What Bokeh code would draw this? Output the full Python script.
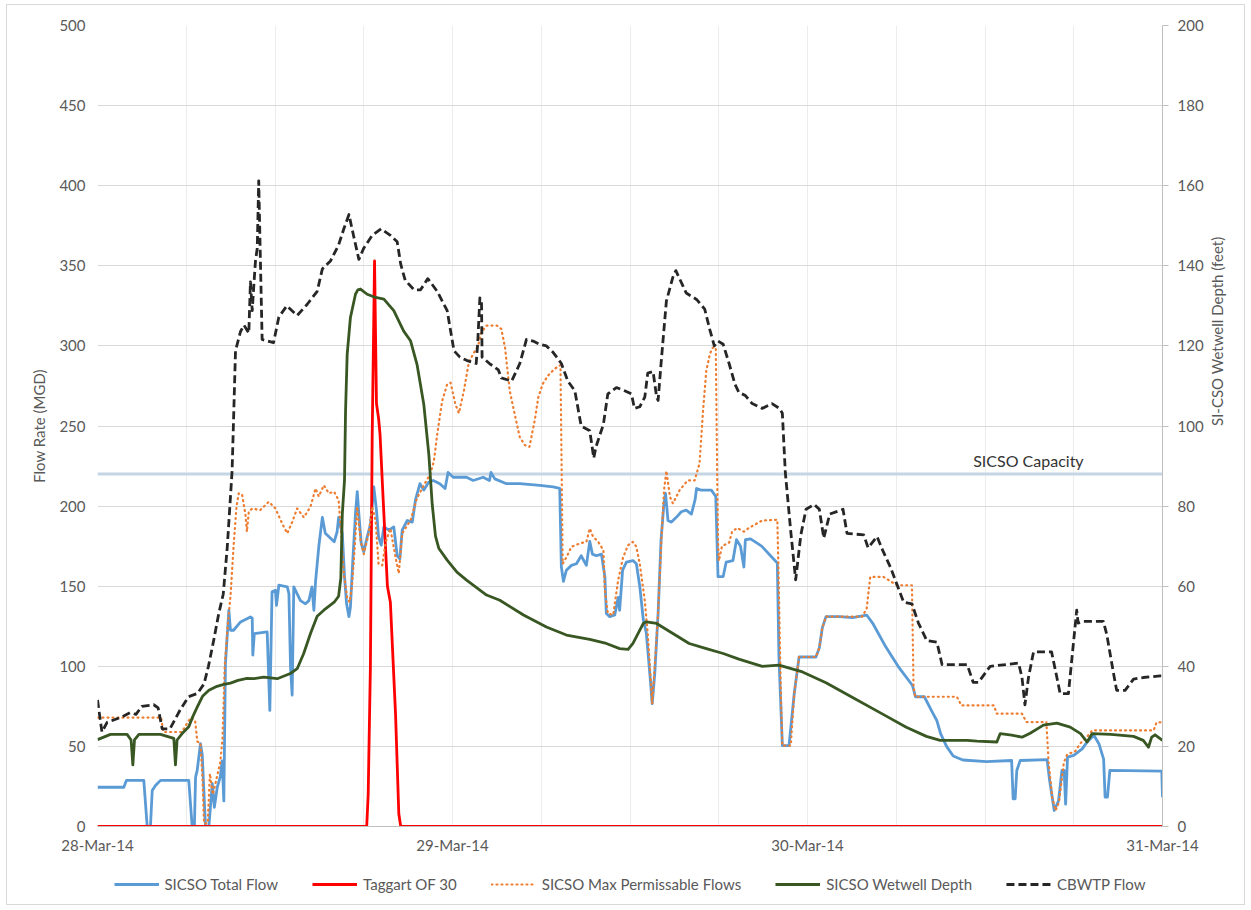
import math
from bokeh.plotting import figure
from bokeh.layouts import column
from bokeh.models import Range1d, LinearAxis, Label, Legend, LegendItem, FixedTicker
from bokeh.embed import file_html
from bokeh.resources import INLINE

FONT = "Lato"
TXT = "#595959"

# ---------------- data (hours after 28-Mar-14 00:00) ----------------
x_tick_hours = [0, 24, 48, 72]
x_tick_labels = ["28-Mar-14", "29-Mar-14", "30-Mar-14", "31-Mar-14"]
grid_hours = list(range(0, 73, 6))
flow_ticks = list(range(0, 501, 50))
depth_ticks = list(range(0, 201, 20))
capacity_mgd = 220
capacity_label = "SICSO Capacity"

# SICSO Total Flow (MGD)
sicso_total_flow = [
    (0, 24.5), (1.78, 24.5), (1.96, 28.8), (3.13, 28.8), (3.36, 0), (3.58, 0), (3.7, 22.5), (3.92, 25.6),
    (4.26, 28.8), (6.17, 28.8), (6.4, 0), (6.55, 0), (6.63, 30.8), (6.74, 35), (6.96, 51.7), (7.08, 45),
    (7.3, 0), (7.53, 0), (7.76, 26.7), (7.9, 12), (8.1, 24.6), (8.3, 31), (8.43, 41), (8.54, 16),
    (8.65, 101.7), (8.88, 135), (8.99, 122.5), (9.2, 122.5), (9.67, 127.7), (10.34, 130.8), (10.46, 130),
    (10.5, 107), (10.6, 120.4), (11.47, 121.5), (11.65, 72.5), (11.8, 146.5), (12.03, 147.5), (12.1, 138),
    (12.26, 150.6), (12.83, 149.6), (12.94, 145.4), (13.05, 99.6), (13.16, 82), (13.27, 149.6), (13.72, 141),
    (14.06, 139), (14.29, 141), (14.5, 149.6), (14.63, 135), (14.74, 152.7), (14.96, 174.6), (15.2, 193),
    (15.4, 183), (16.0, 177.7), (16.2, 184), (16.3, 193), (16.55, 183), (16.7, 156), (16.84, 139), (17.0, 131),
    (17.1, 137), (17.26, 166), (17.44, 195), (17.56, 209), (17.67, 195), (17.83, 176.7), (18.0, 171.5),
    (18.24, 181), (18.46, 189), (18.68, 212), (18.86, 197.5), (19.0, 181), (19.18, 175.6), (19.36, 187),
    (19.7, 185), (20.03, 187), (20.26, 169), (20.44, 167), (20.6, 185), (20.94, 191), (21.28, 190), (21.5, 204),
    (21.8, 214), (22.06, 210), (22.4, 215), (22.7, 216), (23.14, 214), (23.5, 211), (23.7, 221), (24.05, 218),
    (24.95, 218), (25.4, 216), (26.07, 218), (26.5, 216), (26.6, 221), (26.86, 217), (27.65, 214), (28.55, 214),
    (29.9, 213), (30.8, 212), (31.25, 211), (31.36, 162), (31.5, 153), (31.7, 160), (32.04, 163), (32.38, 164),
    (32.7, 169), (33.05, 163), (33.28, 178), (33.46, 170), (33.73, 169), (34.07, 170), (34.3, 156), (34.4, 133),
    (34.63, 131), (34.97, 132), (35.2, 143), (35.3, 135), (35.5, 160), (35.76, 165), (36.2, 166), (36.43, 164),
    (36.66, 150), (36.9, 129), (37.1, 121), (37.38, 91), (37.5, 76.7), (37.67, 95), (37.9, 133), (38.1, 179),
    (38.28, 200), (38.4, 208), (38.57, 191), (38.8, 190), (39.13, 193), (39.47, 196.5), (39.8, 197.5),
    (40.15, 195), (40.4, 204), (40.5, 211), (40.8, 210), (41.5, 210), (41.8, 206), (41.95, 156), (42.3, 156),
    (42.5, 165), (42.96, 166), (43.2, 179), (43.47, 175), (43.7, 162), (43.8, 179), (44.15, 179.5), (44.9, 175),
    (45.5, 169), (45.96, 164.5), (46.07, 105.8), (46.3, 50.5), (46.75, 50.5), (47.1, 82.7), (47.43, 105.8),
    (48.57, 105.8), (48.8, 111.5), (49.0, 124), (49.25, 131), (50.15, 131), (51.05, 130.4), (52.0, 132),
    (52.4, 127), (53.3, 112), (54.2, 99), (55.1, 88), (55.3, 81), (55.9, 81), (56.4, 72), (56.75, 66),
    (57.0, 58), (57.4, 50), (57.85, 44), (58.5, 41.5), (60.1, 40.5), (61.8, 41.2), (61.9, 17.3), (62.04, 17.3),
    (62.15, 35), (62.38, 41.2), (64.2, 41.7), (64.35, 30), (64.68, 10), (64.97, 16), (65.2, 35), (65.35, 35),
    (65.45, 14), (65.58, 43.3), (66.0, 44.4), (66.57, 48.5), (66.9, 52.7), (67.36, 57), (67.7, 51.7),
    (68.02, 42), (68.12, 18.3), (68.28, 18.3), (68.44, 35), (71.95, 34.6), (72.0, 18.3),
]

# Taggart OF 30 (MGD)
taggart_of30 = [
    (0, 0), (18.2, 0), (18.3, 20), (18.45, 100), (18.57, 243), (18.73, 353), (18.86, 264), (19.0, 255),
    (19.1, 245), (19.25, 216), (19.6, 150), (19.8, 140), (20.15, 70), (20.37, 8), (20.5, 0), (72, 0),
]

# SICSO Max Permissable Flows (MGD)
sicso_max_permissable = [
    (0, 68), (4.3, 68), (4.45, 59), (5.7, 59), (6.3, 68), (6.6, 66), (6.75, 53), (6.96, 52), (7.1, 30),
    (7.2, 2), (7.45, 2), (7.6, 33), (7.8, 20), (8.0, 28), (8.3, 40), (8.45, 55), (8.6, 100), (8.8, 125),
    (9.0, 145), (9.2, 175), (9.4, 200), (9.55, 208), (9.78, 207), (10.0, 195), (10.1, 184), (10.23, 196.5),
    (10.46, 198.5), (11.0, 197.5), (11.58, 202.7), (12.03, 198.5), (12.49, 189), (12.83, 183), (13.16, 190),
    (13.5, 198.5), (13.95, 193), (14.4, 199.6), (14.74, 211), (14.96, 206), (15.3, 213), (15.64, 208),
    (16.0, 209), (16.3, 203.7), (16.5, 180), (16.65, 158), (16.88, 143), (17.05, 140), (17.2, 150),
    (17.33, 166), (17.56, 199.6), (17.78, 179), (18.0, 170), (18.34, 183), (18.57, 199.6), (18.8, 191),
    (19.0, 164), (19.25, 163), (19.47, 177), (19.8, 186), (20.15, 168), (20.37, 158), (20.6, 183),
    (21.16, 191), (21.6, 205), (22.06, 213), (22.5, 220), (22.74, 228), (22.97, 245), (23.3, 265.6),
    (23.64, 276), (23.87, 277), (24.2, 263.5), (24.43, 258), (24.77, 272), (25.1, 289.6), (25.4, 295),
    (25.73, 300), (25.96, 308.5), (26.3, 312.7), (27.0, 312.7), (27.3, 310.6), (27.55, 299), (27.87, 272),
    (28.2, 257.7), (28.55, 243), (28.9, 238), (29.2, 237), (29.56, 253.5), (29.8, 268), (30.1, 276.3),
    (30.46, 281.5), (30.9, 285.7), (31.3, 288), (31.45, 164), (31.7, 168), (32.04, 174.6), (32.6, 176.7),
    (33.05, 177.7), (33.28, 186), (33.5, 181), (33.85, 177.7), (34.2, 172.5), (34.3, 147.5), (34.5, 133),
    (34.86, 132), (35.2, 153.8), (35.53, 168), (35.87, 175.6), (36.2, 177.7), (36.43, 174.6), (36.66, 164),
    (37.0, 141), (37.2, 120.4), (37.5, 76.7), (37.67, 99.6), (37.9, 133), (38.1, 174.6), (38.3, 210),
    (38.46, 222), (38.7, 205.8), (38.9, 201.7), (39.36, 210), (39.9, 216), (40.37, 216), (40.7, 226.6),
    (40.94, 259.8), (41.16, 284.6), (41.4, 295), (41.6, 299), (41.8, 299), (41.9, 214), (41.95, 179),
    (42.0, 165.7), (42.22, 175), (42.7, 177.2), (42.9, 184), (43.25, 186.4), (43.7, 184), (44.04, 186.4),
    (44.94, 191), (45.96, 191.5), (46.03, 163.4), (46.2, 82.7), (46.3, 50.5), (46.87, 50.5), (47.1, 82.7),
    (47.43, 105.8), (48.57, 105.8), (48.8, 111.5), (49.0, 124), (49.25, 131), (51.7, 131), (52.0, 136),
    (52.24, 155.8), (53.14, 155.8), (54.05, 150.6), (55.06, 150.6), (55.17, 87), (55.28, 81), (58.1, 81),
    (58.4, 75.6), (60.6, 75.6), (60.8, 70.4), (62.5, 70.4), (62.8, 65.2), (64.15, 65.2), (64.3, 40),
    (64.55, 18), (64.77, 10), (65.0, 15), (65.33, 40), (65.56, 45), (66.1, 47), (66.46, 52), (66.9, 56),
    (67.25, 60), (71.4, 60), (71.6, 65), (72, 65),
]

# SICSO Wetwell Depth (feet, right axis)
sicso_wetwell_depth = [
    (0, 21.7), (0.88, 23), (2.0, 23), (2.27, 21.6), (2.39, 15.4), (2.5, 21.6), (2.8, 23), (4.26, 23),
    (5.16, 22), (5.27, 15.4), (5.38, 21.6), (5.72, 23.2), (6.17, 24.9), (6.45, 27.5), (6.74, 29.8),
    (7.1, 32.5), (7.53, 34), (8.08, 35), (8.54, 35.5), (8.99, 35.8), (9.5, 36.5), (10.1, 37.0), (10.57, 36.9),
    (11.24, 37.3), (12.15, 36.9), (13.04, 38.2), (13.5, 39.4), (13.94, 43.2), (14.4, 48.2), (14.85, 52.5),
    (15.3, 54), (16.0, 56), (16.3, 57.5), (16.45, 62), (16.55, 78), (16.7, 86.5), (16.77, 103.8),
    (16.88, 117.9), (17.1, 127.1), (17.44, 132.9), (17.6, 134), (17.78, 134.2), (18.23, 132.9), (18.8, 132.1),
    (19.36, 131.7), (20.03, 128.8), (20.7, 123.7), (21.16, 121.3), (21.6, 115.4), (22.06, 105.4),
    (22.4, 92.9), (22.63, 80.4), (22.85, 72.5), (23.08, 69.4), (23.64, 66.5), (24.3, 63.5), (24.95, 61.5),
    (26.3, 57.8), (27.2, 56.5), (28.8, 52.8), (30.35, 49.8), (31.7, 47.8), (33.28, 46.7), (34.4, 45.7),
    (35.3, 44.4), (35.87, 44.2), (36.2, 45.7), (36.9, 50.7), (37.1, 51.1), (37.8, 50.7), (38.9, 48.2),
    (40.0, 45.7), (41.16, 44.4), (42.3, 43.2), (43.36, 41.8), (44.94, 40.0), (46.07, 40.3), (47.66, 38.6),
    (49.25, 35.9), (51.05, 32.2), (52.87, 28.5), (54.68, 24.8), (56.04, 22.5), (56.97, 21.5), (58.8, 21.5),
    (59.45, 21.3), (60.8, 21.1), (61.03, 23.2), (61.8, 22.8), (62.5, 22.3), (63.05, 23.3), (63.95, 25.3),
    (64.86, 25.8), (65.76, 24.8), (66.46, 23.2), (66.9, 21.1), (67.25, 23.2), (68.5, 23), (70.04, 22.5),
    (70.7, 21.5), (71.05, 19.8), (71.27, 22.3), (71.5, 22.9), (72.0, 21.5),
]

# CBWTP Flow (MGD)
cbwtp_flow = [
    (0.0, 79), (0.3, 59), (0.65, 65), (1.55, 68), (2.2, 71), (2.6, 70), (3.0, 75), (3.8, 76), (4.1, 74),
    (4.37, 61), (4.9, 61), (5.6, 73), (6.15, 81), (6.75, 83), (7.2, 89), (7.5, 100), (7.85, 116), (8.2, 133),
    (8.5, 145), (8.77, 174), (9.1, 222), (9.33, 297), (9.67, 309), (9.9, 313), (10.23, 308), (10.34, 340),
    (10.46, 322), (10.57, 338), (10.68, 353), (10.8, 361), (10.9, 403), (11.0, 359), (11.13, 304), (11.9, 302),
    (12.26, 318), (12.8, 325), (13.5, 319), (14.18, 326), (14.85, 334), (15.2, 348), (15.75, 353), (16.3, 363),
    (16.65, 373), (17.0, 382), (17.33, 368), (17.67, 354), (18.0, 361), (18.57, 369), (19.17, 373),
    (19.8, 369), (20.26, 365), (20.5, 351), (20.8, 341), (21.4, 335), (21.84, 335), (22.33, 342), (22.97, 334),
    (23.64, 322), (24.1, 297), (24.5, 293), (24.95, 291), (25.6, 289), (25.7, 301), (25.85, 330), (25.96, 328),
    (26.0, 293), (26.5, 289), (27.1, 285), (27.3, 280), (28.0, 278), (28.55, 289), (29.0, 304), (29.45, 303),
    (29.9, 301), (30.35, 300), (30.8, 296), (31.36, 289), (31.8, 278), (32.27, 272), (32.7, 250), (33.28, 247),
    (33.55, 230), (33.7, 237), (34.2, 251), (34.5, 270), (35.08, 274), (35.64, 272), (36.1, 270), (36.3, 261),
    (36.66, 262), (37.0, 268), (37.2, 283), (37.56, 284), (37.8, 268), (37.9, 266), (38.1, 289), (38.46, 328),
    (38.9, 343), (39.1, 347), (39.6, 337), (39.8, 333), (40.5, 329), (41.05, 323), (41.4, 310), (41.7, 300),
    (41.95, 303), (42.3, 301), (42.7, 289), (43.1, 276), (43.36, 271), (43.8, 269), (44.26, 264), (44.94, 261),
    (45.6, 264), (46.1, 261), (46.3, 258), (46.5, 221), (46.87, 184), (47.2, 154), (47.55, 182), (47.9, 198),
    (48.45, 201), (48.8, 198), (49.1, 180), (49.5, 195), (50.4, 198), (50.67, 183), (51.8, 182), (52.1, 174),
    (52.7, 181), (53.1, 172), (53.6, 162), (54.05, 151), (54.5, 140), (55.06, 139), (55.5, 127), (56.07, 116),
    (56.75, 115), (57.1, 101), (58.8, 101), (59.2, 90), (59.56, 90), (60.35, 100), (62.27, 102), (62.5, 93),
    (62.7, 76), (62.94, 93), (63.28, 109), (64.5, 109), (64.86, 93), (65.08, 83), (65.64, 83), (66.2, 135),
    (66.3, 127), (66.66, 128), (68.0, 128), (68.23, 120), (68.7, 95), (68.9, 85), (69.47, 85), (70.04, 92),
    (70.7, 93), (71.84, 94), (72.0, 94),
]

series_names = ["SICSO Total Flow", "Taggart OF 30", "SICSO Max Permissable Flows",
                "SICSO Wetwell Depth", "CBWTP Flow"]


def xs(series):
    return [h for h, _ in series]


def ys(series):
    return [v for _, v in series]


# line styles per series (same order as series_names)
STYLES = [
    dict(line_color="#5b9bd5", line_width=2.8, line_join="round"),
    dict(line_color="#ff0000", line_width=2.8, line_join="round"),
    dict(line_color="#ed7d31", line_width=2.2, line_dash="1 4", line_cap="round", line_join="round"),
    dict(line_color="#385723", line_width=2.8, line_join="round"),
    dict(line_color="#262626", line_width=2.8, line_dash="8 4", line_join="round"),
]

# ---------------- main figure ----------------
p = figure(frame_width=1065, frame_height=801, x_range=Range1d(0, 72), y_range=Range1d(0, 500),
           output_backend="svg", toolbar_location=None,
           min_border_left=90, min_border_right=82, min_border_top=20, min_border_bottom=38)
p.extra_y_ranges = {"depth": Range1d(0, 200)}
p.outline_line_color = None
p.background_fill_color = "white"
p.border_fill_color = "white"

# grids
p.xgrid.ticker = FixedTicker(ticks=grid_hours)
p.xgrid.grid_line_color = "#ececec"
p.ygrid.ticker = FixedTicker(ticks=flow_ticks)
p.ygrid.grid_line_color = "#d9d9d9"

# x axis
xa = p.xaxis[0]
xa.ticker = FixedTicker(ticks=x_tick_hours)
xa.major_label_overrides = {h: lab for h, lab in zip(x_tick_hours, x_tick_labels)}
xa.axis_line_color = "#bfbfbf"
xa.major_tick_line_color = None
xa.minor_tick_line_color = None
xa.major_tick_out = 0
xa.major_tick_in = 0
xa.major_label_standoff = 9
xa.major_label_text_font = FONT
xa.major_label_text_font_size = "15px"
xa.major_label_text_color = TXT

# left axis
ya = p.yaxis[0]
ya.ticker = FixedTicker(ticks=flow_ticks)
ya.axis_line_color = None
ya.major_tick_line_color = None
ya.minor_tick_line_color = None
ya.major_tick_out = 0
ya.major_tick_in = 0
ya.major_label_standoff = 12
ya.major_label_text_font = FONT
ya.major_label_text_font_size = "15px"
ya.major_label_text_color = TXT
ya.axis_label = "Flow Rate (MGD)"
ya.axis_label_text_font = FONT
ya.axis_label_text_font_size = "15px"
ya.axis_label_text_font_style = "normal"
ya.axis_label_text_color = TXT
ya.axis_label_standoff = 8

# right axis
ra = LinearAxis(y_range_name="depth", ticker=FixedTicker(ticks=depth_ticks))
ra.axis_line_color = "#bfbfbf"
ra.major_tick_line_color = "#bfbfbf"
ra.major_tick_out = 6
ra.major_tick_in = 0
ra.minor_tick_line_color = None
ra.major_label_standoff = 9
ra.major_label_text_font = FONT
ra.major_label_text_font_size = "15px"
ra.major_label_text_color = TXT
ra.axis_label = "SI-CSO Wetwell Depth (feet)"
ra.axis_label_text_font = FONT
ra.axis_label_text_font_size = "15px"
ra.axis_label_text_font_style = "normal"
ra.axis_label_text_color = TXT
ra.axis_label_standoff = 10
if "axis_label_orientation" in ra.properties():
    ra.axis_label_orientation = math.pi / 2
p.add_layout(ra, "right")

# capacity line + label
p.line(x=[x_tick_hours[0], x_tick_hours[-1]], y=[capacity_mgd, capacity_mgd],
       line_color="#c6d5e4", line_width=3)
p.add_layout(Label(x=59.2, y=capacity_mgd, y_offset=4, text=capacity_label,
                   text_baseline="bottom", text_font=FONT, text_font_size="16px",
                   text_color="#333333"))

# series
p.line(xs(sicso_total_flow), ys(sicso_total_flow), **STYLES[0])
p.line(xs(taggart_of30), ys(taggart_of30), **STYLES[1])
p.line(xs(sicso_max_permissable), ys(sicso_max_permissable), **STYLES[2])
p.line(xs(sicso_wetwell_depth), ys(sicso_wetwell_depth), y_range_name="depth", **STYLES[3])
p.line(xs(cbwtp_flow), ys(cbwtp_flow), **STYLES[4])

# ---------------- legend strip (second figure, same width) ----------------
lg = figure(frame_width=1065, frame_height=40, x_range=Range1d(0, 1), y_range=Range1d(0, 1),
            output_backend="svg", toolbar_location=None,
            min_border_left=90, min_border_right=82, min_border_top=0, min_border_bottom=0)
lg.axis.visible = False
lg.grid.visible = False
lg.outline_line_color = None
lg.background_fill_color = "white"
lg.border_fill_color = "white"
items = []
nan = float("nan")
for name, st in zip(series_names, STYLES):
    # legend-only renderer: a single undefined point, so nothing is drawn in the strip itself
    r = lg.line(x=[nan], y=[nan], **st)
    items.append(LegendItem(label=name, renderers=[r]))
legend = Legend(items=items, orientation="horizontal", location="center", glyph_width=45,
                glyph_height=16, label_standoff=6, spacing=34, padding=2, margin=0,
                label_text_font=FONT, label_text_font_size="15px", label_text_color=TXT,
                border_line_color=None, background_fill_alpha=0)
lg.add_layout(legend)

layout = column(p, lg, spacing=0)
layout.styles = {"border": "1px solid #d9d9d9", "margin-left": "6px", "margin-top": "4px",
                 "background-color": "white"}

open("out.html", "w").write(file_html(layout, INLINE))
